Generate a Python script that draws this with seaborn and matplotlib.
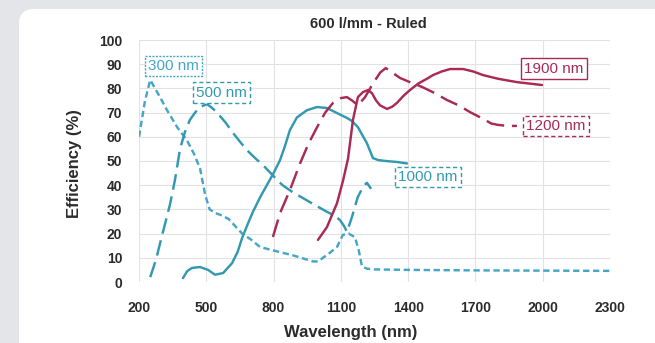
import matplotlib
matplotlib.use("Agg")
import matplotlib.pyplot as plt
from matplotlib.patches import FancyBboxPatch
import pandas as pd
import seaborn as sns

# Diffraction efficiency curves, 600 l/mm ruled gratings, one per blaze wavelength
wl_300 = [200, 227, 250, 290, 325, 370, 414, 445, 472, 495, 515, 540, 570, 600, 630, 660,
          700, 739, 800, 887, 976, 1000, 1020, 1050, 1083, 1109, 1135, 1163, 1180, 1194,
          1216, 1250, 1400, 1700, 2000, 2300]
eff_300 = [60, 75, 83.5, 77, 71, 64, 58.5, 53, 47, 36, 30, 28.5, 27.5, 26, 23, 20,
           17.5, 14.5, 13, 11, 8.5, 8.5, 10, 12, 14.5, 19.5, 20, 18.5, 13, 6.5,
           5.5, 5.2, 5, 4.8, 4.7, 4.6]

wl_500 = [250, 275, 294, 316, 338, 360, 383, 405, 427, 450, 472, 503, 525, 548, 585, 619,
          650, 681, 720, 753, 797, 840, 887, 925, 962, 1000, 1038, 1070, 1096, 1115, 1127,
          1150, 1175, 1200, 1216, 1235]
eff_500 = [2, 9, 16, 24, 32, 42, 55, 62, 67, 70, 72.3, 73.5, 72, 70, 66, 61.6,
           58, 54.5, 51, 48.3, 44, 40, 37, 35, 33, 31, 29, 27.5, 25.6, 23, 20.7,
           27, 35, 39.5, 41, 38.5]

wl_1000 = [396, 415, 436, 472, 508, 539, 575, 615, 640, 659, 685, 708, 740, 770, 800, 829,
           850, 873, 904, 949, 994, 1038, 1083, 1127, 1150, 1176, 1200, 1216, 1243, 1266,
           1300, 1350, 1395]
eff_1000 = [1.6, 4.5, 5.8, 6.2, 5, 3, 3.7, 7.8, 12.5, 18, 24, 29, 35, 40, 45, 50.4,
            56, 62.8, 68, 71, 72.3, 71.9, 69.8, 67.8, 66.5, 64, 60, 57.4, 51.2, 50.4,
            50, 49.6, 49]

wl_1200 = [797, 829, 873, 918, 955, 994, 1030, 1065, 1100, 1127, 1150, 1176, 1208, 1243,
           1275, 1300, 1330, 1364, 1410, 1462, 1520, 1573, 1625, 1676, 1743, 1770, 1796,
           1840, 1885]
eff_1200 = [18.6, 28.5, 38, 49, 57, 64, 70, 74, 76, 76.4, 75, 73, 76.4, 82,
            86.5, 88.4, 86.5, 84.3, 82.5, 80.6, 78, 75.2, 73, 70.2, 67, 65.5, 65,
            64.5, 64.5]

wl_1900 = [998, 1038, 1083, 1110, 1132, 1154, 1176, 1199, 1221, 1239, 1257, 1275, 1306,
           1330, 1350, 1380, 1408, 1445, 1484, 1511, 1550, 1587, 1645, 1690, 1734, 1800,
           1885, 1940, 1997]
eff_1900 = [17.4, 22.7, 32.6, 42, 51, 67, 76.4, 78.5, 79.3, 78, 75, 73, 71.5,
            72.5, 74, 77, 79.3, 82, 84, 85.5, 87, 88, 88, 87, 85.5, 84,
            82.6, 82, 81.4]

blazes = ["300 nm", "500 nm", "1000 nm", "1200 nm", "1900 nm"]
label_x = [354, 568, 1488, 2059, 2050]
label_y = [89.3, 78.3, 43.4, 64.5, 88.2]

x_ticks = [200, 500, 800, 1100, 1400, 1700, 2000, 2300]
y_ticks = list(range(0, 101, 10))

frames = []
for name, wl, eff in zip(blazes,
                         [wl_300, wl_500, wl_1000, wl_1200, wl_1900],
                         [eff_300, eff_500, eff_1000, eff_1200, eff_1900]):
    frames.append(pd.DataFrame({"Wavelength (nm)": wl, "Efficiency (%)": eff, "Blaze": name}))
df = pd.concat(frames, ignore_index=True)

TEAL = "#3399b0"
TEAL_LIGHT = "#45a6c6"
CRIMSON = "#a82a55"

palette = {"300 nm": TEAL_LIGHT, "500 nm": TEAL, "1000 nm": TEAL,
           "1200 nm": CRIMSON, "1900 nm": CRIMSON}
dashes = {"300 nm": (2.6, 1.5), "500 nm": (6.5, 2.8), "1000 nm": "",
          "1200 nm": (7.5, 3.2), "1900 nm": ""}
box_styles = {"300 nm": (0, (1.5, 1)), "500 nm": (0, (3, 2)), "1000 nm": (0, (3, 2)),
              "1200 nm": (0, (3, 2)), "1900 nm": "-"}

sns.set_theme(style="whitegrid")
plt.rcParams["font.family"] = ["Liberation Sans", "DejaVu Sans"]

fig = plt.figure(figsize=(6.55, 3.43), dpi=100)
fig.patch.set_facecolor("#e3e5e9")

# white rounded card behind the chart (inch units), running off the right and bottom edges
card = FancyBboxPatch((0.19, -0.3), 10.0, 3.34 + 0.3,
                      boxstyle="round,pad=0,rounding_size=0.15",
                      transform=fig.dpi_scale_trans, facecolor="white", edgecolor="none",
                      zorder=0)
fig.add_artist(card)

ax = fig.add_axes([139 / 655, 1 - 282 / 343, 471 / 655, 242 / 343])
ax.set_facecolor("white")

sns.lineplot(data=df, x="Wavelength (nm)", y="Efficiency (%)", hue="Blaze", style="Blaze",
             hue_order=blazes, style_order=blazes, palette=palette, dashes=dashes,
             estimator=None, sort=False, legend=False, linewidth=1.75, ax=ax)

ax.set_xlim(200, 2300)
ax.set_ylim(0, 100)
ax.set_xticks(x_ticks)
ax.set_yticks(y_ticks)
ax.grid(True, color="#e2e2e2", linewidth=0.8)
for s in ax.spines.values():
    s.set_visible(False)

ax.tick_params(axis="both", length=0, labelsize=10, labelcolor="#2b2b2b")
ax.tick_params(axis="x", pad=14)
ax.tick_params(axis="y", pad=12)
for lbl in ax.get_xticklabels() + ax.get_yticklabels():
    lbl.set_fontweight("bold")

ax.set_xlabel("Wavelength (nm)", fontsize=12, fontweight="bold", color="#2b2b2b")
ax.set_ylabel("Efficiency (%)", fontsize=12, fontweight="bold", color="#2b2b2b")
ax.xaxis.set_label_coords((351 - 139) / 471, (282 - 333) / 242)
ax.xaxis.label.set_va("center")
ax.yaxis.set_label_coords((75 - 139) / 471, 0.49)
ax.yaxis.label.set_va("center")

ax.set_title("600 l/mm - Ruled", fontsize=10.5, fontweight="bold", color="#2b2b2b",
             x=(368 - 139) / 471, pad=9)

for name, lx, ly in zip(blazes, label_x, label_y):
    col = palette[name]
    ax.text(lx, ly, name, ha="center", va="center", fontsize=11, color=col, zorder=5,
            bbox=dict(boxstyle="square,pad=0.22", facecolor="white", edgecolor=col,
                      linewidth=1.0, linestyle=box_styles[name]))

fig.savefig("out.png", dpi=100, facecolor=fig.get_facecolor())
